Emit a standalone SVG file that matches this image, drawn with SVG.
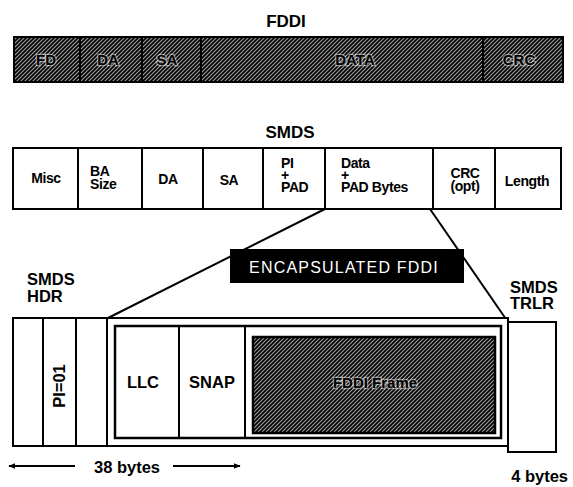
<svg xmlns="http://www.w3.org/2000/svg" width="573" height="487" viewBox="0 0 573 487">
<defs>
<pattern id="hatch" patternUnits="userSpaceOnUse" width="4" height="4">
<rect width="4" height="4" fill="#a8a8a8"/>
<path d="M-1,1 l2,-2 M0,4 l4,-4 M3,5 l2,-2" stroke="#000" stroke-width="1.8"/>
</pattern>
<marker id="arr" viewBox="0 0 10 10" refX="9" refY="5" markerWidth="7" markerHeight="7" orient="auto" markerUnits="userSpaceOnUse">
<path d="M0,1 L10,5 L0,9 z" fill="#000"/>
</marker>
</defs>
<style>
text{font-family:"Liberation Sans",Arial,sans-serif;font-weight:bold;fill:#000}
.t{font-size:17px;text-anchor:middle}
.f{font-size:15px;text-anchor:middle;stroke:#fff;stroke-width:2.5;stroke-opacity:0.5;paint-order:stroke}
.s{font-size:14px;letter-spacing:-0.4px}
.m{text-anchor:middle}
.box{fill:#fff;stroke:#000;stroke-width:2}
.ln{stroke:#000;stroke-width:2;fill:none}
.lb{font-size:16.5px}
</style>
<rect width="573" height="487" fill="#fff"/>

<g id="fddi">
<text class="t" x="286" y="27">FDDI</text>
<rect x="14" y="37" width="549" height="45" fill="url(#hatch)" stroke="#000" stroke-width="2"/>
<path class="ln" d="M80,37V82M142,37V82M201,37V82M483,37V82"/>
<text class="f" x="46" y="65">FD</text>
<text class="f" x="108" y="65">DA</text>
<text class="f" x="167" y="65">SA</text>
<text class="f" x="355" y="65">DATA</text>
<text class="f" x="519" y="65">CRC</text>
</g>

<g id="smds">
<text class="t" x="290" y="138">SMDS</text>
<rect class="box" x="13" y="148" width="548" height="61"/>
<path class="ln" d="M78,148V209M142,148V209M203,148V209M263,148V209M325,148V209M433,148V209M495,148V209"/>
<text class="s m" x="46" y="183">Misc</text>
<text class="s" x="90" y="176">BA</text>
<text class="s" x="90" y="189">Size</text>
<text class="s m" x="168" y="184">DA</text>
<text class="s m" x="229" y="185">SA</text>
<text class="s" x="281" y="168">PI</text>
<text class="s" x="281" y="180">+</text>
<text class="s" x="281" y="192">PAD</text>
<text class="s" x="341" y="168">Data</text>
<text class="s" x="341" y="180">+</text>
<text class="s" x="341" y="192">PAD Bytes</text>
<text class="s m" x="465" y="178">CRC</text>
<text class="s m" x="465" y="191">(opt)</text>
<text class="s m" x="527" y="186">Length</text>
</g>

<g id="connectors">
<path class="ln" d="M325,209L108,318"/>
<path class="ln" d="M430,209L508,322"/>
</g>

<g id="encap-label">
<rect x="230" y="249" width="234" height="34" fill="#000"/>
<text x="344" y="273" style="font-weight:normal;font-size:16px;fill:#fff;letter-spacing:1.2px;text-anchor:middle">ENCAPSULATED FDDI</text>
</g>

<g id="hdr-label">
<text class="lb" x="27" y="285">SMDS</text>
<text class="lb" x="27" y="302">HDR</text>
</g>
<g id="trlr-label">
<text class="lb" x="510" y="293">SMDS</text>
<text class="lb" x="510" y="309">TRLR</text>
</g>

<g id="frame">
<rect class="box" x="13" y="318" width="495" height="128"/>
<path class="ln" d="M43,318V446M76,318V446M107,318V446"/>
<text class="lb" transform="translate(65,386) rotate(-90)" text-anchor="middle">PI=01</text>
<rect x="115" y="326" width="386" height="112" fill="#fff" stroke="#000" stroke-width="2.5"/>
<path class="ln" d="M179,326V438M245,326V438"/>
<text class="lb m" x="143" y="388">LLC</text>
<text class="lb m" x="212" y="388">SNAP</text>
<rect x="253" y="337" width="242" height="96" fill="url(#hatch)" stroke="#000" stroke-width="2.5"/>
<text class="f" x="375" y="388">FDDI Frame</text>
</g>

<g id="trlr">
<rect class="box" x="508" y="322" width="48" height="130"/>
</g>

<g id="sizes">
<path class="ln" d="M75,466H9" marker-end="url(#arr)" stroke-width="1.8"/>
<path class="ln" d="M173,466H240" marker-end="url(#arr)" stroke-width="1.8"/>
<text x="127" y="473" style="font-size:16.5px;text-anchor:middle">38 bytes</text>
<text x="568" y="482" style="font-size:16.5px;text-anchor:end">4 bytes</text>
</g>
</svg>
